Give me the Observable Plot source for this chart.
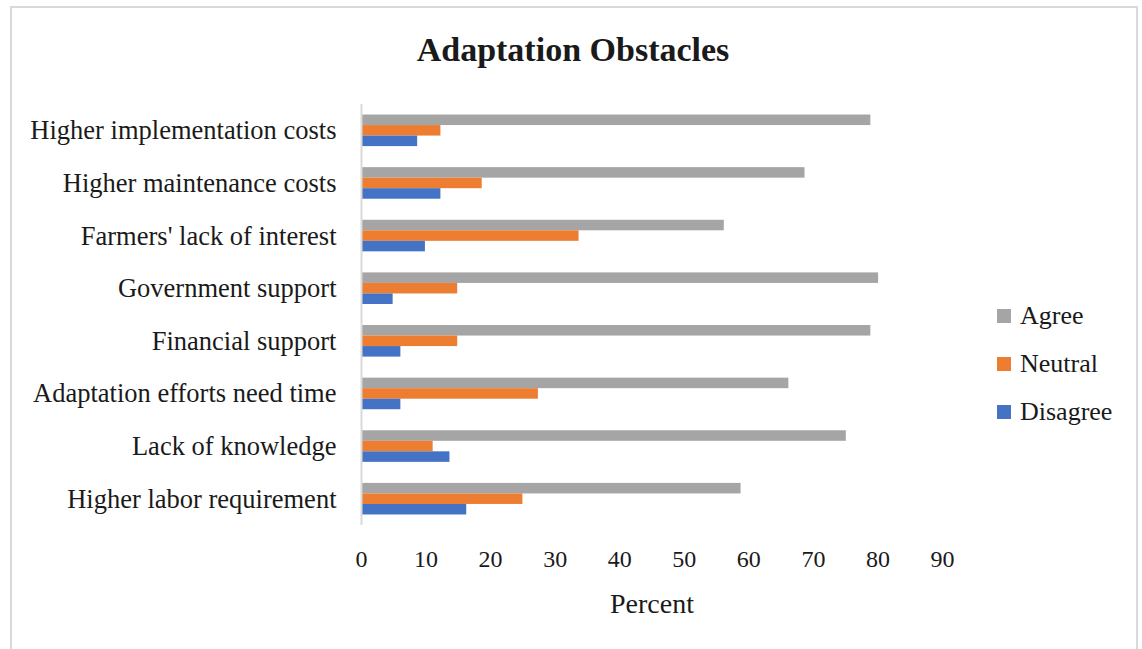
<!DOCTYPE html>
<html>
<head>
<meta charset="utf-8">
<script src="https://cdn.jsdelivr.net/npm/d3@7"></script>
<script src="https://cdn.jsdelivr.net/npm/@observablehq/plot@0.6"></script>
<style>
  html, body { margin: 0; padding: 0; background: #fff; }
  #wrap { position: relative; width: 1142px; height: 649px; overflow: hidden; font-family: "Liberation Serif", serif; color: #1a1a1a; }
  #frame { position: absolute; left: 10px; top: 6px; width: 1128px; height: 700px; border: 2px solid #d9d9d9; box-sizing: border-box; }
  #chart { position: absolute; left: 0; top: 0; }
  #title { position: absolute; left: 0; width: 1146px; top: 30px; text-align: center; font-weight: bold; font-size: 34px; line-height: 40px; }
  #xlabel { position: absolute; left: 0; width: 1304px; top: 588px; text-align: center; font-size: 28px; line-height: 32px; }
  .leg { position: absolute; left: 997px; height: 30px; display: flex; align-items: center; font-size: 26px; }
  .leg span.sw { display: inline-block; width: 14px; height: 14px; margin-right: 9px; }
</style>
</head>
<body>
<div id="wrap">
  <div id="frame"></div>
  <div id="chart"></div>
  <div id="title">Adaptation Obstacles</div>
  <div id="xlabel">Percent</div>
</div>
<script>
const categories = [
  "Higher implementation costs",
  "Higher maintenance costs",
  "Farmers' lack of interest",
  "Government support",
  "Financial support",
  "Adaptation efforts need time",
  "Lack of knowledge",
  "Higher labor requirement"
];
const series = ["Agree", "Neutral", "Disagree"];
const agree    = [78.9, 68.7, 56.2, 80.1, 78.9, 66.2, 75.1, 58.8];
const neutral  = [12.3, 18.7, 33.7, 14.9, 14.9, 27.4, 11.1, 25.0];
const disagree = [ 8.7, 12.3,  9.9,  4.9,  6.1,  6.1, 13.7, 16.3];
const xTicks = [0, 10, 20, 30, 40, 50, 60, 70, 80, 90];
const colors = ["#a5a5a5", "#ed7d31", "#4472c4"];

const valuesBySeries = {Agree: agree, Neutral: neutral, Disagree: disagree};
const rows = categories.flatMap((c, i) => series.map(s => ({cat: c, s, v: valuesBySeries[s][i]})));
const key = d => d.cat + "|" + d.s;
const yDomain = categories.flatMap(c => [c + "|pre", ...series.map(s => c + "|" + s), c + "|post"]);

const chart = Plot.plot({
  width: 1142,
  height: 649,
  marginLeft: 361,
  marginRight: 200,
  marginTop: 104,
  marginBottom: 124,
  style: {fontFamily: "Liberation Serif, serif", fontSize: "24px", color: "#1a1a1a", background: "transparent"},
  x: {domain: [0, 90], axis: null},
  y: {domain: yDomain, padding: 0, round: false, axis: null},
  color: {domain: series, range: colors},
  marks: [
    Plot.barX(rows, {x: "v", y: key, fill: "s"}),
    Plot.ruleX([0], {stroke: "#d9d9d9", strokeWidth: 2}),
    Plot.axisX({ticks: xTicks, tickSize: 0, tickPadding: 24, label: null, fontSize: 24}),
    Plot.axisY({ticks: categories.map(c => c + "|Neutral"), tickFormat: d => d.split("|")[0], tickSize: 0, tickPadding: 25, label: null, fontSize: 26.5})
  ]
});
document.getElementById("chart").appendChild(chart);

const legendY = [316, 364, 412];
const wrap = document.getElementById("wrap");
series.forEach((s, i) => {
  const el = document.createElement("div");
  el.className = "leg";
  el.style.top = (legendY[i] - 15) + "px";
  el.innerHTML = `<span class="sw" style="background:${colors[i]}"></span>${s}`;
  wrap.appendChild(el);
});
</script>
</body>
</html>
